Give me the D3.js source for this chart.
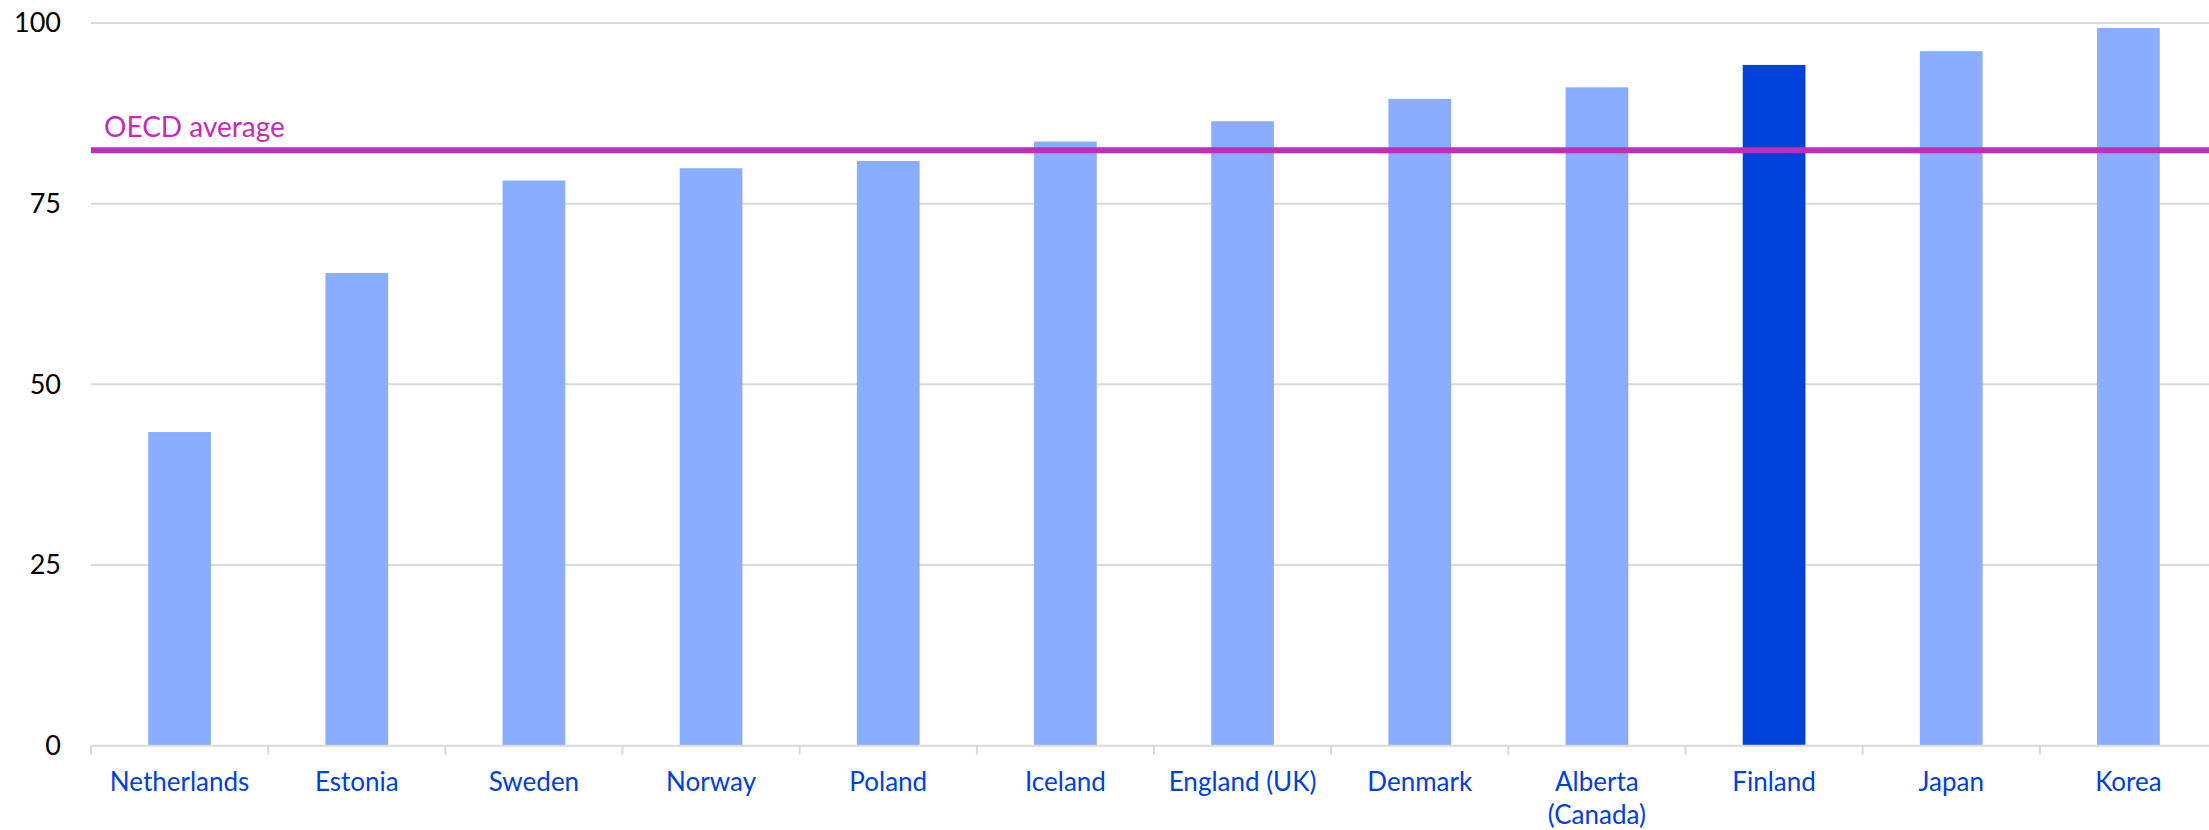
<!doctype html>
<html lang="en">
  <head>
    <meta charset="utf-8">
    <title>Chart</title>
    <style>
      body { margin: 0; background: #fff; }
      svg { display: block; font-family: Lato, "Open Sans", sans-serif; }
    </style>
  </head>
  <body>
    <script src="https://cdn.jsdelivr.net/npm/d3@7"></script>
    <script>

var categories = ["Netherlands", "Estonia", "Sweden", "Norway", "Poland", "Iceland",
                  "England (UK)", "Denmark", "Alberta (Canada)", "Finland", "Japan", "Korea"];
var tickLines  = [["Netherlands"], ["Estonia"], ["Sweden"], ["Norway"], ["Poland"], ["Iceland"],
                  ["England (UK)"], ["Denmark"], ["Alberta", "(Canada)"], ["Finland"], ["Japan"], ["Korea"]];
var values     = [43.4, 65.4, 78.2, 79.9, 80.9, 83.6, 86.4, 89.5, 91.1, 94.2, 96.1, 99.3];
var highlight  = "Finland";
var oecdAverage = 82.4;
var yTicks     = [0, 25, 50, 75, 100];

var width = 2209, height = 830;
var plot = {left: 91, right: 2217, top: 23, bottom: 745.7};

var svg = d3.select("body")
    .append("svg")
    .attr("width", width)
    .attr("height", height);

var x = d3.scaleBand()
    .domain(categories)
    .range([plot.left, plot.right])
    .paddingInner(0.646)
    .paddingOuter(0.323);

var y = d3.scaleLinear()
    .domain([0, 100])
    .range([plot.bottom, plot.top]);

// gridlines + y labels
svg.append("g")
   .selectAll("line")
   .data(yTicks.filter(function(d){ return d > 0; }))
   .enter()
   .append("line")
   .attr("x1", plot.left)
   .attr("x2", width)
   .attr("y1", function(d){ return y(d); })
   .attr("y2", function(d){ return y(d); })
   .attr("stroke", "#d9d9d9")
   .attr("stroke-width", 2);

svg.append("g")
   .selectAll("text")
   .data(yTicks)
   .enter()
   .append("text")
   .attr("x", 61)
   .attr("y", function(d){ return y(d); })
   .attr("dy", "0.35em")
   .attr("text-anchor", "end")
   .attr("font-size", 27)
   .attr("fill", "#000")
   .text(function(d){ return d; });

// bars
svg.append("g")
   .selectAll("rect")
   .data(categories)
   .enter()
   .append("rect")
   .attr("x", function(d){ return x(d); })
   .attr("y", function(d, i){ return y(values[i]); })
   .attr("width", x.bandwidth())
   .attr("height", function(d, i){ return y(0) - y(values[i]); })
   .attr("fill", function(d){ return d === highlight ? "#0041d9" : "#8aadff"; });

// x axis: baseline, boundary ticks, labels
var axis = svg.append("g");
axis.append("line")
    .attr("x1", plot.left)
    .attr("x2", width)
    .attr("y1", y(0))
    .attr("y2", y(0))
    .attr("stroke", "#d9d9d9")
    .attr("stroke-width", 2);

var bounds = categories.map(function(d){ return x(d) + x.bandwidth() / 2 - x.step() / 2; });
axis.selectAll(".tick")
    .data(bounds)
    .enter()
    .append("line")
    .attr("class", "tick")
    .attr("x1", function(d){ return d; })
    .attr("x2", function(d){ return d; })
    .attr("y1", y(0))
    .attr("y2", y(0) + 9)
    .attr("stroke", "#d9d9d9")
    .attr("stroke-width", 2);

axis.selectAll(".lbl")
    .data(categories)
    .enter()
    .append("text")
    .attr("class", "lbl")
    .attr("x", function(d){ return x(d) + x.bandwidth() / 2; })
    .attr("y", 791)
    .attr("text-anchor", "middle")
    .attr("font-size", 26)
    .attr("fill", "#0041d9")
    .each(function(d, i){
        var t = d3.select(this);
        tickLines[i].forEach(function(line, k){
            t.append("tspan")
             .attr("x", x(d) + x.bandwidth() / 2)
             .attr("dy", k === 0 ? 0 : 32.7)
             .text(line);
        });
    });

// OECD average line
svg.append("line")
   .attr("x1", plot.left)
   .attr("x2", width)
   .attr("y1", y(oecdAverage))
   .attr("y2", y(oecdAverage))
   .attr("stroke", "#c42bb9")
   .attr("stroke-width", 6);

svg.append("text")
   .attr("x", 104)
   .attr("y", y(oecdAverage) - 13)
   .attr("font-size", 28)
   .attr("fill", "#c42bb9")
   .text("OECD average");

    </script>
  </body>
</html>
